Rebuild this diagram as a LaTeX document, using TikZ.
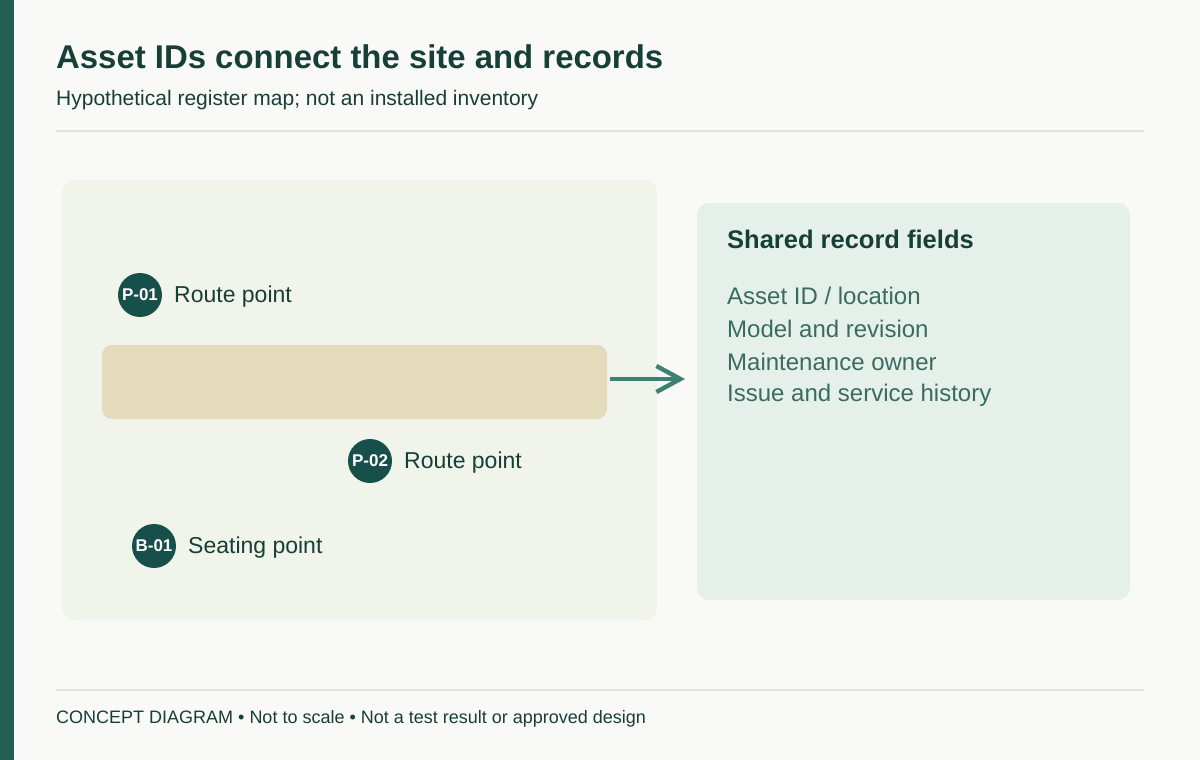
\documentclass[tikz,border=0pt]{standalone}
\usepackage{fontspec}
\setmainfont{Liberation Sans}
\usetikzlibrary{arrows.meta}
\definecolor{bg}{HTML}{F9F9F7}
\definecolor{bar}{HTML}{225E51}
\definecolor{ink}{HTML}{173F37}
\definecolor{rulec}{HTML}{DCE6E0}
\definecolor{leftp}{HTML}{F0F4EA}
\definecolor{tan}{HTML}{E4DBBC}
\definecolor{arrowc}{HTML}{3D8270}
\definecolor{rightp}{HTML}{E6F0EB}
\definecolor{dot}{HTML}{17504A}
\definecolor{field}{HTML}{3A6B5F}
\tikzset{
  idmark/.style={circle, fill=dot, minimum size=44pt, inner sep=0pt, text=white, font=\fontsize{17}{20}\selectfont\bfseries},
  lbl/.style={anchor=west, text=ink, font=\fontsize{23}{27}\selectfont, inner sep=0pt},
  fld/.style={anchor=west, text=field, font=\fontsize{24}{28}\selectfont, inner sep=0pt},
}
\begin{document}
\begin{tikzpicture}[x=1pt,y=-1pt]
\useasboundingbox (0,0) rectangle (1200,760);
\fill[bg] (0,0) rectangle (1200,760);
\fill[bar] (0,0) rectangle (14,760);
\node[anchor=west, text=ink, inner sep=0pt, font=\fontsize{32.9}{38}\selectfont\bfseries] (title) at (56,57) {Asset IDs connect the site and records};
\node[anchor=west, text=ink, inner sep=0pt, font=\fontsize{21}{25}\selectfont] (sub) at (56,100) {Hypothetical register map; not an installed inventory};
\draw[rulec, line width=2pt] (56,131) -- (1144,131);
\fill[leftp, rounded corners=12pt] (62,180) rectangle (657,620);
\fill[tan, rounded corners=10pt] (102,345) rectangle (607,419);
\node[coordinate] (tanE) at (610,379) {};
\fill[rightp, rounded corners=12pt] (697,203) rectangle (1130,600);
\node[coordinate] (recW) at (685,379) {};
\draw[arrowc, line width=3.2pt, -{Straight Barb[length=24pt,width=26pt,line width=4.4pt]}] (tanE) -- (recW);
\node[idmark] (p01) at (140,295) {P-01};
\node[lbl] (p01l) at (174,297) {Route point};
\node[idmark] (p02) at (370,461) {P-02};
\node[lbl] (p02l) at (404,463) {Route point};
\node[idmark] (b01) at (154,546) {B-01};
\node[lbl] (b01l) at (188,548) {Seating point};
\node[anchor=west, text=ink, inner sep=0pt, font=\fontsize{25.5}{30}\selectfont\bfseries] (rech) at (727,239) {Shared record fields};
\node[fld] (f1) at (727,296) {Asset ID / location};
\node[fld] (f2) at (727,329) {Model and revision};
\node[fld] (f3) at (727,362) {Maintenance owner};
\node[fld] (f4) at (727,395) {Issue and service history};
\draw[rulec, line width=2pt] (56,690) -- (1144,690);
\node[anchor=west, text=ink, inner sep=0pt, font=\fontsize{18}{22}\selectfont] (foot) at (56,719) {CONCEPT DIAGRAM • Not to scale • Not a test result or approved design};
\end{tikzpicture}
\end{document}
